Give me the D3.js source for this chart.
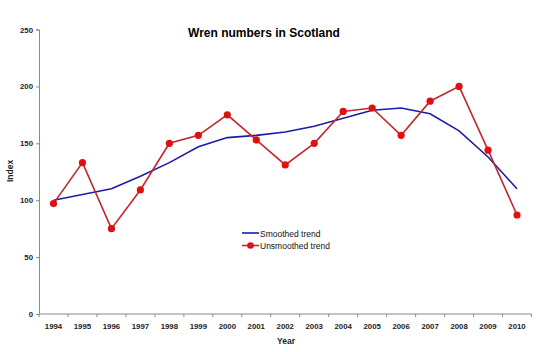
<!DOCTYPE html>
<html>
<head>
<meta charset="utf-8">
<script src="https://cdn.jsdelivr.net/npm/d3@7"></script>
<style>
  body { margin: 0; background: #fff; }
  text { font-family: Arial, "Liberation Sans", sans-serif; }
</style>
</head>
<body>
<div class="chart"></div>
<script>
// data
const years = ["1994","1995","1996","1997","1998","1999","2000","2001","2002","2003","2004","2005","2006","2007","2008","2009","2010"];
const smoothed = [100, 105, 110, 121, 133, 147, 155, 157, 160, 165, 172, 179, 181, 176, 161, 138, 110];
const unsmoothed = [97, 133, 75, 109, 150, 157, 175, 153, 131, 150, 178, 181, 157, 187, 200, 144, 87];
const yTicks = [0, 50, 100, 150, 200, 250];

const W = 550, H = 352;
const margin = {top: 29.5, right: 18, bottom: 38, left: 39};

const svg = d3.select(".chart").append("svg")
  .attr("width", W).attr("height", H);

const x = d3.scaleBand().domain(years).range([margin.left, 531.5]);
const y = d3.scaleLinear().domain([0, 250]).range([314, margin.top]);
const cx = d => x(d) + x.bandwidth() / 2;

// title
svg.append("text")
  .attr("x", 264).attr("y", 37)
  .attr("text-anchor", "middle")
  .style("font-size", "12px").style("font-weight", "bold")
  .text("Wren numbers in Scotland");

// y axis
const yAxis = svg.append("g")
  .attr("transform", `translate(${margin.left},0)`)
  .call(d3.axisLeft(y).tickValues(yTicks).tickSize(3).tickPadding(3));
yAxis.select(".domain").attr("stroke", "#8a8a8a");
yAxis.selectAll(".tick line").attr("stroke", "#8a8a8a");
yAxis.selectAll(".tick text")
  .style("font-size", "7.8px").style("font-weight", "bold")
  .attr("fill", "#222").attr("font-family", null);

// x axis, ticks between categories
const xg = svg.append("g").attr("transform", "translate(0,314)");
xg.append("line")
  .attr("x1", margin.left).attr("x2", 531.5)
  .attr("stroke", "#8a8a8a");
const bounds = years.map(d => x(d)).concat([x(years[years.length - 1]) + x.bandwidth()]);
xg.selectAll(".xt").data(bounds).join("line")
  .attr("x1", d => d).attr("x2", d => d)
  .attr("y1", 0).attr("y2", 3)
  .attr("stroke", "#8a8a8a");
xg.selectAll(".xl").data(years).join("text")
  .attr("x", d => cx(d)).attr("y", 15)
  .attr("text-anchor", "middle")
  .style("font-size", "7.8px").style("font-weight", "bold")
  .attr("fill", "#222")
  .text(d => d);

// axis titles
svg.append("text")
  .attr("x", 286).attr("y", 344)
  .attr("text-anchor", "middle")
  .style("font-size", "8.5px").style("font-weight", "bold")
  .attr("fill", "#222")
  .text("Year");
svg.append("text")
  .attr("transform", "translate(13,171) rotate(-90)")
  .attr("text-anchor", "middle")
  .style("font-size", "8.5px").style("font-weight", "bold")
  .attr("fill", "#222")
  .text("Index");

// lines
const line = d3.line().x((d, i) => cx(years[i])).y(d => y(d));

svg.append("path")
  .datum(smoothed)
  .attr("d", line)
  .attr("fill", "none")
  .attr("stroke", "#1c1ca8")
  .attr("stroke-width", 1.6);

svg.append("path")
  .datum(unsmoothed)
  .attr("d", line)
  .attr("fill", "none")
  .attr("stroke", "#c0282d")
  .attr("stroke-width", 1.6);

svg.selectAll(".pt").data(unsmoothed).join("circle")
  .attr("cx", (d, i) => cx(years[i]))
  .attr("cy", d => y(d))
  .attr("r", 3.6)
  .attr("fill", "#e01010");

// legend
const lg = svg.append("g").attr("transform", "translate(242,0)");
lg.append("line").attr("x1", 0).attr("x2", 17).attr("y1", 233).attr("y2", 233)
  .attr("stroke", "#1c1ca8").attr("stroke-width", 1.6);
lg.append("text").attr("x", 18).attr("y", 236.5)
  .style("font-size", "8.5px").attr("fill", "#111")
  .text("Smoothed trend");
lg.append("line").attr("x1", 0).attr("x2", 17).attr("y1", 245.5).attr("y2", 245.5)
  .attr("stroke", "#c0282d").attr("stroke-width", 1.6);
lg.append("circle").attr("cx", 8.5).attr("cy", 245.5).attr("r", 3.3).attr("fill", "#e01010");
lg.append("text").attr("x", 18).attr("y", 249)
  .style("font-size", "8.5px").attr("fill", "#111")
  .text("Unsmoothed trend");
</script>
</body>
</html>
